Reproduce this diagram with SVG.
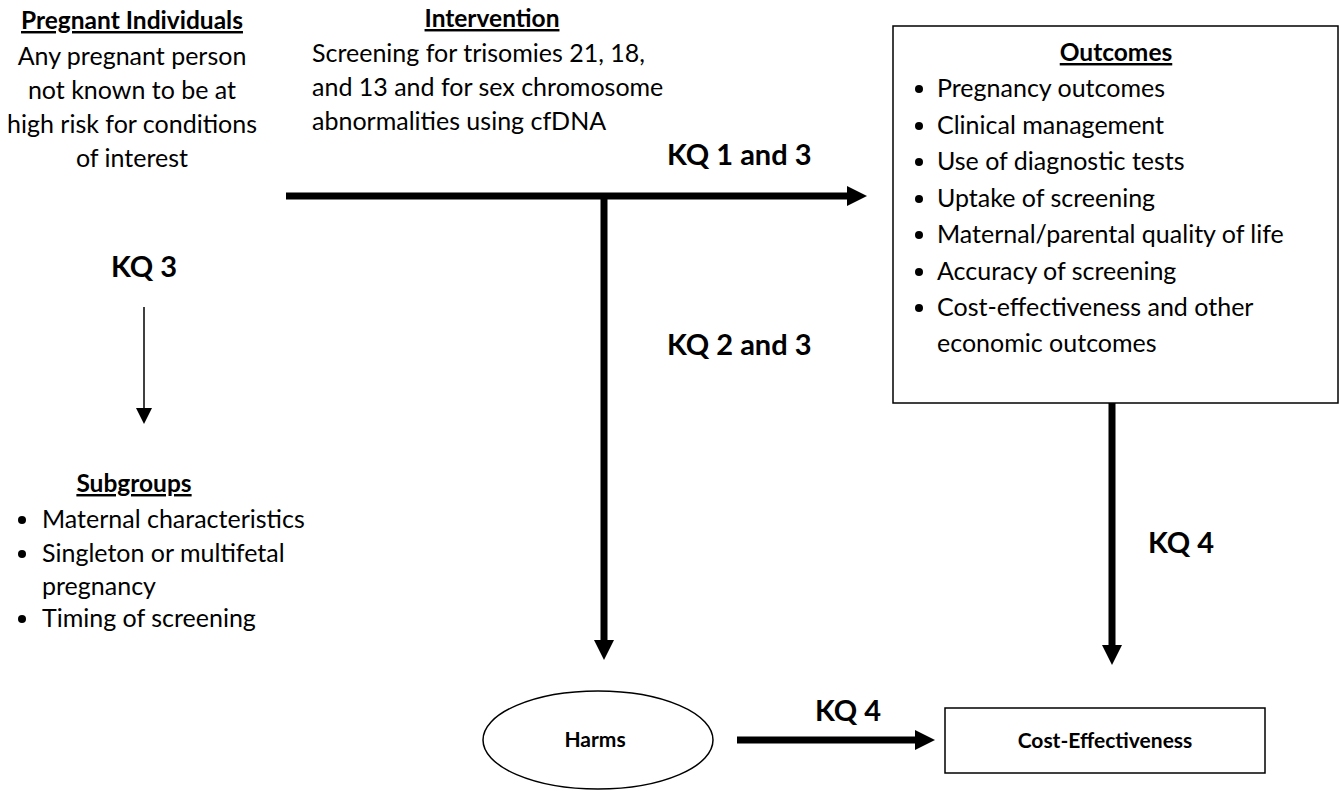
<svg xmlns="http://www.w3.org/2000/svg" width="1341" height="791" viewBox="0 0 1341 791">
<style>
  text { font-family: Lato, "Open Sans", sans-serif; fill: #000; }
  .reg { font-size: 25px; }
  .title { font-size: 24.5px; font-weight: bold; text-decoration: underline; }
  .kq { font-size: 29px; font-weight: bold; }
  .nodeb { font-size: 21px; font-weight: bold; }
  .mid { text-anchor: middle; }
  .thick { stroke: #000; stroke-width: 7; fill: none; }
  .thin { stroke: #000; stroke-width: 1.5; fill: none; }
  .box { fill: #fff; stroke: #000; stroke-width: 1.5; }
</style>
<defs>
  <marker id="head" markerUnits="userSpaceOnUse" markerWidth="20" markerHeight="20" refX="0" refY="10" orient="auto">
    <path d="M0,0 L20,10 L0,20 z" fill="#000"/>
  </marker>
  <marker id="headThin" markerUnits="userSpaceOnUse" markerWidth="16" markerHeight="16" refX="0" refY="8" orient="auto">
    <path d="M0,0 L16,8 L0,16 z" fill="#000"/>
  </marker>
</defs>
<rect width="1341" height="791" fill="#fff"/>

<g id="population">
  <text class="title mid" x="132" y="29">Pregnant Individuals</text>
  <text class="reg mid" x="132" y="65">Any pregnant person</text>
  <text class="reg mid" x="132" y="99">not known to be at</text>
  <text class="reg mid" x="132" y="133">high risk for conditions</text>
  <text class="reg mid" x="132" y="167">of interest</text>
</g>

<g id="intervention">
  <text class="title mid" x="492" y="27">Intervention</text>
  <text class="reg" x="312" y="62">Screening for trisomies 21, 18,</text>
  <text class="reg" x="312" y="96">and 13 and for sex chromosome</text>
  <text class="reg" x="312" y="130">abnormalities using cfDNA</text>
</g>

<g id="outcomes">
  <rect class="box" x="893" y="26" width="445" height="377"/>
  <text class="title mid" x="1116" y="61">Outcomes</text>
  <g fill="#000">
    <circle cx="919" cy="89" r="4"/>
    <circle cx="919" cy="126" r="4"/>
    <circle cx="919" cy="162" r="4"/>
    <circle cx="919" cy="199" r="4"/>
    <circle cx="919" cy="235" r="4"/>
    <circle cx="919" cy="272" r="4"/>
    <circle cx="919" cy="308" r="4"/>
  </g>
  <text class="reg" x="937" y="97">Pregnancy outcomes</text>
  <text class="reg" x="937" y="134">Clinical management</text>
  <text class="reg" x="937" y="170">Use of diagnostic tests</text>
  <text class="reg" x="937" y="207">Uptake of screening</text>
  <text class="reg" x="937" y="243">Maternal/parental quality of life</text>
  <text class="reg" x="937" y="280">Accuracy of screening</text>
  <text class="reg" x="937" y="316">Cost-effectiveness and other</text>
  <text class="reg" x="937" y="352">economic outcomes</text>
</g>

<g id="subgroups">
  <text class="title mid" x="134" y="492">Subgroups</text>
  <g fill="#000">
    <circle cx="22" cy="520" r="4"/>
    <circle cx="22" cy="554" r="4"/>
    <circle cx="22" cy="619" r="4"/>
  </g>
  <text class="reg" x="42" y="528">Maternal characteristics</text>
  <text class="reg" x="42" y="562">Singleton or multifetal</text>
  <text class="reg" x="42" y="595">pregnancy</text>
  <text class="reg" x="42" y="627">Timing of screening</text>
</g>

<g id="harms">
  <ellipse class="box" cx="598" cy="740" rx="115" ry="49"/>
  <text class="nodeb mid" x="595" y="747">Harms</text>
</g>

<g id="cost-effectiveness">
  <rect class="box" x="945" y="708" width="320" height="65"/>
  <text class="nodeb mid" x="1105" y="748">Cost-Effectiveness</text>
</g>

<g id="connectors">
  <line class="thick" x1="286" y1="196" x2="847" y2="196" marker-end="url(#head)"/>
  <line class="thick" x1="604" y1="196" x2="604" y2="640" marker-end="url(#head)"/>
  <line class="thick" x1="1112" y1="403" x2="1112" y2="645" marker-end="url(#head)"/>
  <line class="thick" x1="737" y1="740" x2="915" y2="740" marker-end="url(#head)"/>
  <line class="thin" x1="144" y1="307" x2="144" y2="408" marker-end="url(#headThin)"/>
  <text class="kq" x="667" y="165">KQ 1 and 3</text>
  <text class="kq" x="667" y="355">KQ 2 and 3</text>
  <text class="kq" x="111" y="277">KQ 3</text>
  <text class="kq" x="1148" y="553">KQ 4</text>
  <text class="kq" x="815" y="721">KQ 4</text>
</g>
</svg>
